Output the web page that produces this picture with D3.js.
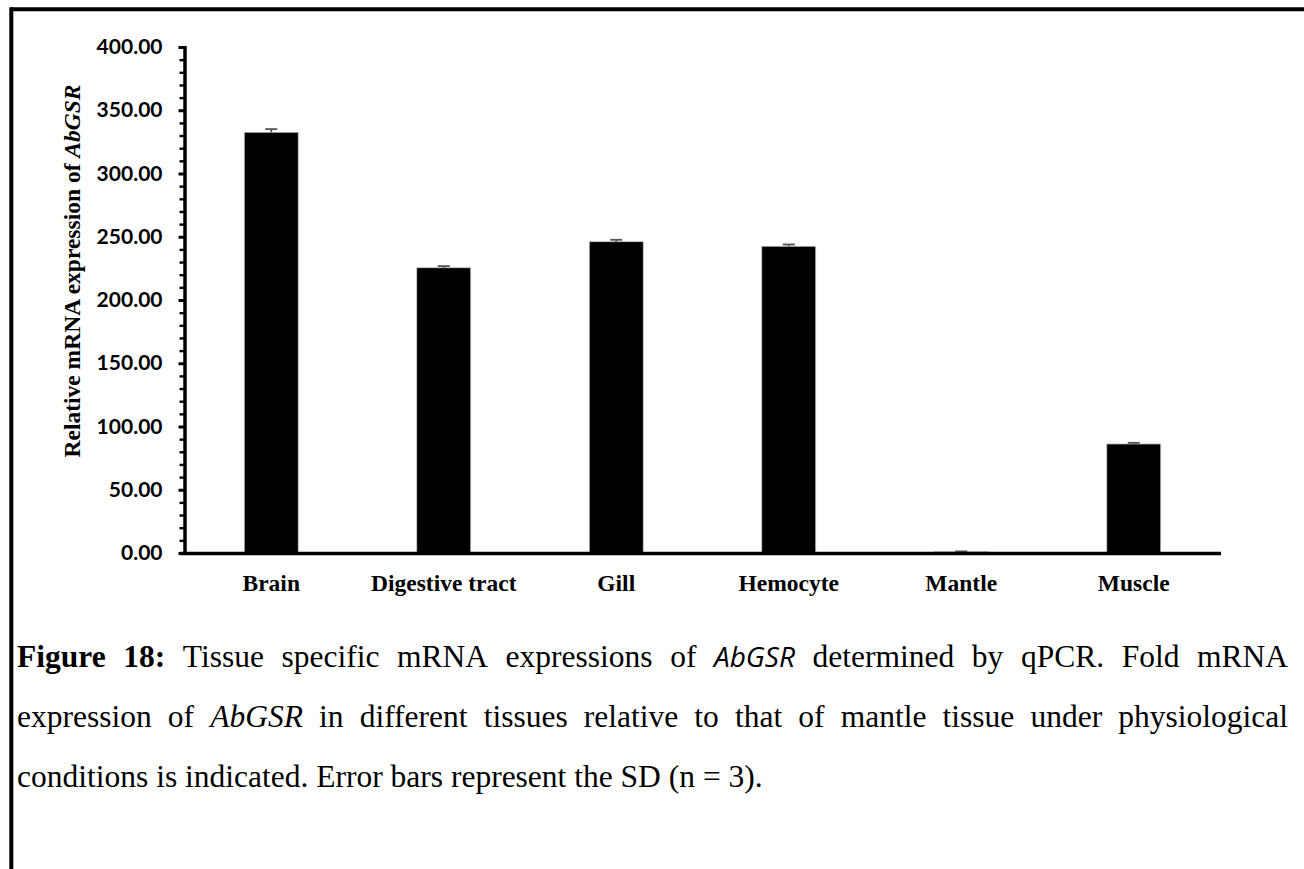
<!DOCTYPE html>
<html>
<head>
<meta charset="utf-8">
<script src="https://cdn.jsdelivr.net/npm/d3@7"></script>
<style>
  html, body { margin: 0; padding: 0; background: #fff; }
  svg { display: block; }
</style>
</head>
<body>
<svg id="fig" width="1304" height="869"></svg>
<script>
// Tissue-specific AbGSR expression (fold change relative to mantle)
const tissues = ["Brain", "Digestive tract", "Gill", "Hemocyte", "Mantle", "Muscle"];
const expression = [332.6, 225.5, 246.1, 242.5, 1.0, 86.2];
const sdValues = [2.5, 1.3, 1.5, 1.4, 0.3, 0.9];
const yTicks = [0, 50, 100, 150, 200, 250, 300, 350, 400];

const svg = d3.select("#fig");
const serif = "'Liberation Serif', 'Times New Roman', serif";

// Page frame (top and left rules)
svg.append("line").attr("x1", 11.3).attr("x2", 1304).attr("y1", 9.3).attr("y2", 9.3)
  .attr("stroke", "#000").attr("stroke-width", 4);
svg.append("line").attr("x1", 11.3).attr("x2", 11.3).attr("y1", 7.3).attr("y2", 869)
  .attr("stroke", "#000").attr("stroke-width", 4);

const x = d3.scaleBand().domain(tissues).range([185, 1220]).paddingInner(0.687).paddingOuter(0.3435);
const y = d3.scaleLinear().domain([0, 400]).range([553, 47]);

// Bars
svg.append("g").selectAll("rect").data(tissues).join("rect")
  .attr("x", d => x(d))
  .attr("y", (d, i) => y(expression[i]))
  .attr("width", x.bandwidth())
  .attr("height", (d, i) => y(0) - y(expression[i]))
  .attr("fill", "#000")
  .attr("stroke", "#c8c8c8").attr("stroke-width", 0.8);

// Error bars (upper SD)
const eb = svg.append("g").attr("stroke", "#555").attr("stroke-width", 1.8);
tissues.forEach((t, i) => {
  const cx = x(t) + x.bandwidth() / 2;
  eb.append("line").attr("x1", cx).attr("x2", cx)
    .attr("y1", y(expression[i])).attr("y2", y(expression[i] + sdValues[i]));
  eb.append("line").attr("x1", cx - 6).attr("x2", cx + 6)
    .attr("y1", y(expression[i] + sdValues[i])).attr("y2", y(expression[i] + sdValues[i]));
});

// Y axis with minor ticks
const minor = d3.range(0, 401, 10).filter(v => v % 50 !== 0);
const yMinor = svg.append("g").attr("transform", "translate(185,0)")
  .call(d3.axisLeft(y).tickValues(minor).tickSize(5.5).tickFormat(""));
yMinor.select(".domain").remove();
yMinor.selectAll("line").attr("stroke", "#000").attr("stroke-width", 2.4);

const yAxis = svg.append("g").attr("transform", "translate(185,0)")
  .call(d3.axisLeft(y).tickValues(yTicks).tickSize(6.5).tickPadding(16).tickFormat(d3.format(".2f")));
yAxis.select(".domain").attr("stroke", "#000").attr("stroke-width", 3.5).attr("d", "M0,46V554.5");
yAxis.selectAll(".tick line").attr("stroke", "#000").attr("stroke-width", 3);
yAxis.selectAll(".tick text")
  .attr("font-family", "Lato, 'Open Sans', sans-serif")
  .attr("font-weight", "bold").attr("font-size", 21).attr("fill", "#000");

// X axis baseline and labels
svg.append("line").attr("x1", 180).attr("x2", 1221).attr("y1", y(0) + 0.5).attr("y2", y(0) + 0.5)
  .attr("stroke", "#000").attr("stroke-width", 3.5);
const xAxis = svg.append("g").attr("transform", `translate(0,${y(0)})`)
  .call(d3.axisBottom(x).tickSize(0).tickPadding(21));
xAxis.select(".domain").remove();
xAxis.selectAll(".tick text")
  .attr("font-family", serif)
  .attr("font-weight", "bold").attr("font-size", 23.5).attr("fill", "#000");

// Y axis title
const yt = svg.append("text")
  .attr("transform", "translate(80,271) rotate(-90)")
  .attr("text-anchor", "middle")
  .attr("font-family", serif)
  .attr("font-weight", "bold").attr("font-size", 23.5).attr("fill", "#000");
yt.append("tspan").text("Relative mRNA expression of ");
yt.append("tspan").attr("font-style", "italic").text("AbGSR");

// Caption, justified across the page width
const capSize = 31.5;
const captionLines = [
  { y: 667, justify: true, parts: [
    { t: "Figure 18:", weight: "bold" },
    { t: "Tissue specific mRNA expressions of" },
    { t: "AbGSR", style: "italic", family: "'Open Sans', sans-serif", size: 28 },
    { t: "determined by qPCR. Fold mRNA" } ] },
  { y: 727, justify: true, parts: [
    { t: "expression of" },
    { t: "AbGSR", style: "italic" },
    { t: "in different tissues relative to that of mantle tissue under physiological" } ] },
  { y: 787, justify: false, parts: [
    { t: "conditions is indicated. Error bars represent the SD (n = 3)." } ] }
];
const capLeft = 17, capRight = 1288;
const cap = svg.append("g");
captionLines.forEach(line => {
  const words = [];
  line.parts.forEach(p => p.t.split(" ").forEach(w => words.push({ w, p })));
  const nodes = words.map(({ w, p }) => cap.append("text")
    .attr("y", line.y)
    .attr("font-family", p.family || serif)
    .attr("font-size", p.size || capSize)
    .attr("font-weight", p.weight || "normal")
    .attr("font-style", p.style || "normal")
    .attr("fill", "#000")
    .text(w));
  const widths = nodes.map(n => n.node().getComputedTextLength());
  const total = d3.sum(widths);
  const space = capSize * 0.25;
  const gap = line.justify ? (capRight - capLeft - total) / (nodes.length - 1) : space;
  let cx = capLeft;
  nodes.forEach((n, i) => { n.attr("x", cx); cx += widths[i] + gap; });
});
</script>
</body>
</html>
